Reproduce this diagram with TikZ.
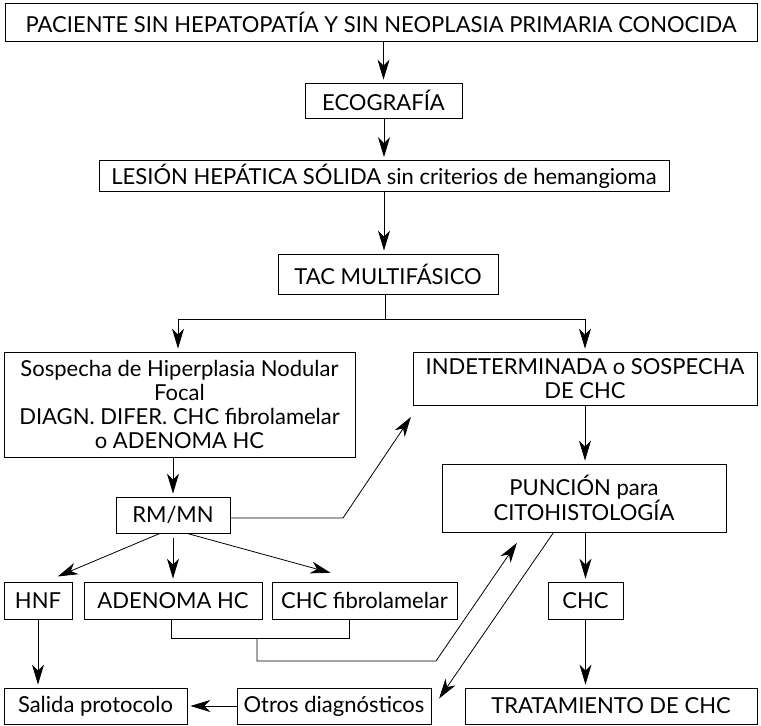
\documentclass[tikz,border=0pt]{standalone}
\usepackage{fontspec}
\setmainfont{Lato}
\usetikzlibrary{arrows.meta}
\begin{document}
\begin{tikzpicture}[x=1pt,y=-1pt,line width=0.8pt,
    arr/.style={-{Stealth[length=20pt,width=12pt,inset=6pt]},shorten >=3pt},
    box/.style={shape=rectangle,draw=black,inner sep=0pt,align=center,
        font=\fontsize{22}{24}\selectfont}]
    \useasboundingbox (0,0) rectangle (761,726);

    \node[box,minimum width=752,minimum height=38] (pac) at (381,22) {PACIENTE SIN HEPATOPATÍA Y SIN NEOPLASIA PRIMARIA CONOCIDA};
    \node[box,minimum width=157,minimum height=35] (eco) at (383.5,100.5) {ECOGRAFÍA};
    \node[box,minimum width=570,minimum height=31] (les) at (384,176) {LESIÓN HEPÁTICA SÓLIDA sin criterios de hemangioma};
    \node[box,minimum width=220,minimum height=40] (tac) at (388,274) {TAC MULTIFÁSICO};
    \node[box,minimum width=351,minimum height=105] (sosp) at (179.5,404.5) {Sospecha de Hiperplasia Nodular\\ Focal\\ DIAGN. DIFER. CHC fibrolamelar\\ o ADENOMA HC};
    \node[box,minimum width=344,minimum height=53] (indet) at (585,378.5) {INDETERMINADA o SOSPECHA\\ DE CHC};
    \node[box,minimum width=284,minimum height=68] (punc) at (584,498) {PUNCIÓN para\\ CITOHISTOLOGÍA};
    \node[box,minimum width=114,minimum height=36] (rm) at (173,515) {RM/MN};
    \node[box,minimum width=68,minimum height=37] (hnf) at (38,600.5) {HNF};
    \node[box,minimum width=178,minimum height=37] (aden) at (173,600.5) {ADENOMA HC};
    \node[box,minimum width=185,minimum height=37] (chcf) at (364.5,600.5) {CHC fibrolamelar};
    \node[box,minimum width=75,minimum height=37] (chc) at (585.5,600.5) {CHC};
    \node[box,minimum width=183,minimum height=36] (sal) at (95.5,706) {Salida protocolo};
    \node[box,minimum width=194,minimum height=36] (otros) at (334,706) {Otros diagnósticos};
    \node[box,minimum width=292,minimum height=36] (trat) at (611,706) {TRATAMIENTO DE CHC};

    \coordinate (split) at (385,319);
    \coordinate (turn) at (343,518);
    \coordinate (brk) at (257,638);
    \coordinate (low) at (257,661);
    \coordinate (bend) at (436,661);

    \path [arr](pac.south -| eco.north) edge (eco.north);
    \path [arr]([xshift=0.5pt]eco.south) edge ([xshift=0.5pt]eco.south |- les.north);
    \path [arr](les.south) edge (les.south |- tac.north);

    \draw (tac.south -| split) -- (split);
    \draw [arr](split) -| (sosp.north -| 178,0);
    \draw [arr](split) -| (indet.north);

    \path [arr](sosp.south -| rm.south) edge (rm.north);
    \path [arr](indet.south) edge (indet.south |- punc.north);
    \draw [arr](rm.east |- turn) -- (turn) -- ([yshift=-9pt]indet.south west);

    \path [arr]([xshift=-13pt]rm.south) edge ([xshift=17pt,yshift=4pt]hnf.north);
    \path [arr]([yshift=-5pt]rm.south) edge (aden.north -| rm.south);
    \path [arr]([xshift=14pt]rm.south) edge ([xshift=-31pt,yshift=8pt]chcf.north);

    \draw (aden.south -| 171,0) -- (brk -| 171,0) -| ([xshift=-15.5pt]chcf.south);
    \draw [arr](brk) -- (low) -- (bend) -- ([xshift=77pt,yshift=-8pt]punc.south west);
    \draw [arr]([xshift=112pt]punc.south west) -- ([xshift=6pt,yshift=5pt]otros.east);

    \path [arr](punc.south -| chc.north) edge (chc.north);
    \path [arr](chc.south) edge (chc.south |- trat.north);
    \path [arr](hnf.south) edge (hnf.south |- sal.north);
    \path [arr](otros) edge (sal);

\end{tikzpicture}
\end{document}
